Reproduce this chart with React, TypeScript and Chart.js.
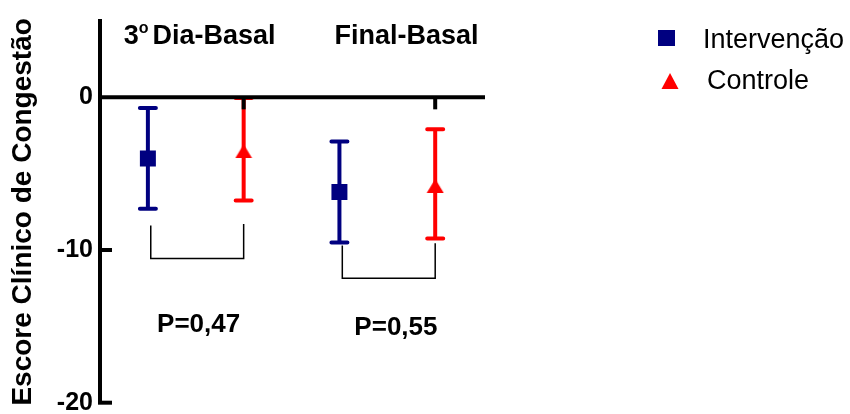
import { useEffect, useRef } from "react";
import { Chart, registerables } from "chart.js";

Chart.register(...registerables);

// ---- data ----
const categories = ["3º Dia-Basal", "Final-Basal"];
const seriesLabels = ["Intervenção", "Controle"];
const intervencaoMean = [-4.0, -6.2];
const intervencaoErr = [3.3, 3.3];
const controleMean = [-3.4, -5.67];
const controleErr = [3.35, 3.58];
const pValueLabels = ["P=0,47", "P=0,55"];
const yTickValues = [0, -10, -20];
const xTickValues = [2, 4];
const yTitle = "Escore Clínico de Congestão";
// comparison brackets (value units)
const bracketLeftTop = [-8.4, -9.7];
const bracketRightTop = [-8.3, -9.55];
const bracketBottom = [-10.55, -11.85];

// ---- styles / layout ----
const COLORS = ["#000080", "#FF0000"];
const FONT = "'Liberation Sans', Arial, Helvetica, sans-serif";
const LAYOUT = {
  groupLabelX: [1.54, 3.7],
  groupLabelY: 3.48,
  pLabelX: [1.53, 3.59],
  pLabelY: [-15.38, -15.54],
  bracketXOffset: 0.03,
};

function makeTriangle(): HTMLCanvasElement {
  const c = document.createElement("canvas");
  c.width = 18;
  c.height = 18;
  const g = c.getContext("2d")!;
  g.fillStyle = COLORS[1];
  g.beginPath();
  g.moveTo(9, 4);
  g.lineTo(17.5, 18);
  g.lineTo(0.5, 18);
  g.closePath();
  g.fill();
  return c;
}

const overlay = {
  id: "overlay",
  beforeDatasetsDraw(chart: any) {
    const ctx = chart.ctx;
    const xs = chart.scales.x;
    const ys = chart.scales.y;
    const sets = [
      [intervencaoMean, intervencaoErr],
      [controleMean, controleErr],
    ];
    sets.forEach(([m, e], s) => {
      ctx.save();
      ctx.strokeStyle = COLORS[s];
      ctx.lineWidth = 4;
      m.forEach((v: number, i: number) => {
        const x = xs.getPixelForValue(2 * i + 1 + s);
        const yT = ys.getPixelForValue(v + e[i]);
        const yB = ys.getPixelForValue(v - e[i]);
        ctx.lineCap = "butt";
        ctx.beginPath();
        ctx.moveTo(x, yT);
        ctx.lineTo(x, yB);
        ctx.stroke();
        ctx.lineCap = "round";
        ctx.beginPath();
        ctx.moveTo(x - 8, yT);
        ctx.lineTo(x + 8, yT);
        ctx.moveTo(x - 8, yB);
        ctx.lineTo(x + 8, yB);
        ctx.stroke();
      });
      ctx.restore();
    });
  },
  afterDatasetsDraw(chart: any) {
    const ctx = chart.ctx;
    const xs = chart.scales.x;
    const ys = chart.scales.y;
    const area = chart.chartArea;
    const y0 = ys.getPixelForValue(0);
    ctx.save();
    ctx.strokeStyle = "#000";
    ctx.fillStyle = "#000";
    ctx.lineCap = "butt";
    // x axis line at zero
    ctx.lineWidth = 4;
    ctx.beginPath();
    ctx.moveTo(area.left, y0);
    ctx.lineTo(area.right, y0);
    ctx.stroke();
    // x ticks (pointing down)
    xTickValues.forEach((v) => {
      const x = xs.getPixelForValue(v);
      ctx.beginPath();
      ctx.moveTo(x, y0);
      ctx.lineTo(x, y0 + 12);
      ctx.stroke();
    });
    // y inner ticks
    yTickValues.forEach((v) => {
      if (v === 0) return;
      const y = ys.getPixelForValue(v);
      ctx.beginPath();
      ctx.moveTo(area.left - 2, y);
      ctx.lineTo(area.left + 12, y);
      ctx.stroke();
    });
    // brackets
    ctx.lineWidth = 1.5;
    categories.forEach((_, i) => {
      const xl = xs.getPixelForValue(2 * i + 1 + LAYOUT.bracketXOffset);
      const xr = xs.getPixelForValue(2 * i + 2);
      const yb = ys.getPixelForValue(bracketBottom[i]);
      ctx.beginPath();
      ctx.moveTo(xl, ys.getPixelForValue(bracketLeftTop[i]));
      ctx.lineTo(xl, yb);
      ctx.lineTo(xr, yb);
      ctx.lineTo(xr, ys.getPixelForValue(bracketRightTop[i]));
      ctx.stroke();
    });
    // group labels
    ctx.textBaseline = "alphabetic";
    categories.forEach((label, i) => {
      const cx = xs.getPixelForValue(LAYOUT.groupLabelX[i]);
      const by = ys.getPixelForValue(LAYOUT.groupLabelY);
      const big = `bold 27px ${FONT}`;
      const small = `bold 16px ${FONT}`;
      if (label.includes("º")) {
        const [pre, post] = label.split("º");
        const rest = post.trim();
        ctx.font = big;
        const w1 = ctx.measureText(pre).width;
        const w3 = ctx.measureText(rest).width;
        ctx.font = small;
        const w2 = ctx.measureText("o").width;
        const gap = 4;
        const total = w1 + w2 + gap + w3;
        let x = cx - total / 2;
        ctx.textAlign = "left";
        ctx.font = big;
        ctx.fillText(pre, x, by);
        x += w1;
        ctx.font = small;
        ctx.fillText("o", x, by - 11);
        x += w2 + gap;
        ctx.font = big;
        ctx.fillText(rest, x, by);
      } else {
        ctx.font = big;
        ctx.textAlign = "center";
        ctx.fillText(label, cx, by);
      }
    });
    // p values
    ctx.font = `bold 26px ${FONT}`;
    ctx.textAlign = "center";
    pValueLabels.forEach((t, i) => {
      ctx.fillText(
        t,
        xs.getPixelForValue(LAYOUT.pLabelX[i]),
        ys.getPixelForValue(LAYOUT.pLabelY[i])
      );
    });
    // legend
    ctx.font = `27px ${FONT}`;
    ctx.textAlign = "left";
    ctx.fillStyle = COLORS[0];
    ctx.fillRect(658, 30, 17, 16);
    ctx.fillStyle = COLORS[1];
    ctx.beginPath();
    ctx.moveTo(670, 73);
    ctx.lineTo(678.5, 89);
    ctx.lineTo(661.5, 89);
    ctx.closePath();
    ctx.fill();
    ctx.fillStyle = "#000";
    ctx.fillText(chart.data.datasets[0].label, 703, 48);
    ctx.fillText(chart.data.datasets[1].label, 707, 89);
    ctx.restore();
  },
};

export default function App() {
  const ref = useRef<HTMLCanvasElement | null>(null);
  useEffect(() => {
    if (!ref.current) return;
    const tri = makeTriangle();
    const chart = new Chart(ref.current, {
      type: "scatter",
      data: {
        datasets: [
          {
            label: seriesLabels[0],
            data: categories.map((_, i) => ({ x: 2 * i + 1, y: intervencaoMean[i] })),
            pointStyle: "rect",
            pointRadius: 11.3,
            backgroundColor: COLORS[0],
            borderColor: COLORS[0],
            borderWidth: 0,
            showLine: false,
          },
          {
            label: seriesLabels[1],
            data: categories.map((_, i) => ({ x: 2 * i + 2, y: controleMean[i] })),
            pointStyle: tri as any,
            pointRadius: 9,
            backgroundColor: COLORS[1],
            borderColor: COLORS[1],
            borderWidth: 0,
            showLine: false,
          },
        ],
      },
      options: {
        animation: false,
        responsive: false,
        devicePixelRatio: 1,
        events: [],
        layout: { padding: { left: 0, right: 365, top: 21, bottom: 9 } },
        plugins: { legend: { display: false }, tooltip: { enabled: false } },
        scales: {
          x: { type: "linear", min: 0.5, max: 4.52, display: false },
          y: {
            type: "linear",
            min: -20,
            max: 5,
            afterBuildTicks: (s: any) => {
              s.ticks = yTickValues.map((v) => ({ value: v }));
            },
            afterFit: (s: any) => {
              s.width = 100;
              s.paddingTop = 0;
              s.paddingBottom = 0;
            },
            grid: { display: false, drawTicks: false },
            border: { display: true, color: "#000", width: 4 },
            ticks: {
              color: "#000",
              padding: 7,
              font: { family: FONT, size: 25, weight: "bold" },
            },
            title: {
              display: true,
              text: yTitle,
              color: "#000",
              padding: { top: 6, bottom: 0 },
              font: { family: FONT, size: 28, weight: "bold" },
            },
          },
        },
      },
      plugins: [overlay],
    });
    return () => chart.destroy();
  }, []);
  return (
    <div style={{ position: "fixed", left: 0, top: 0, width: 850, height: 414, background: "#fff" }}>
      <canvas ref={ref} width={850} height={414} style={{ width: 850, height: 414 }} />
    </div>
  );
}
